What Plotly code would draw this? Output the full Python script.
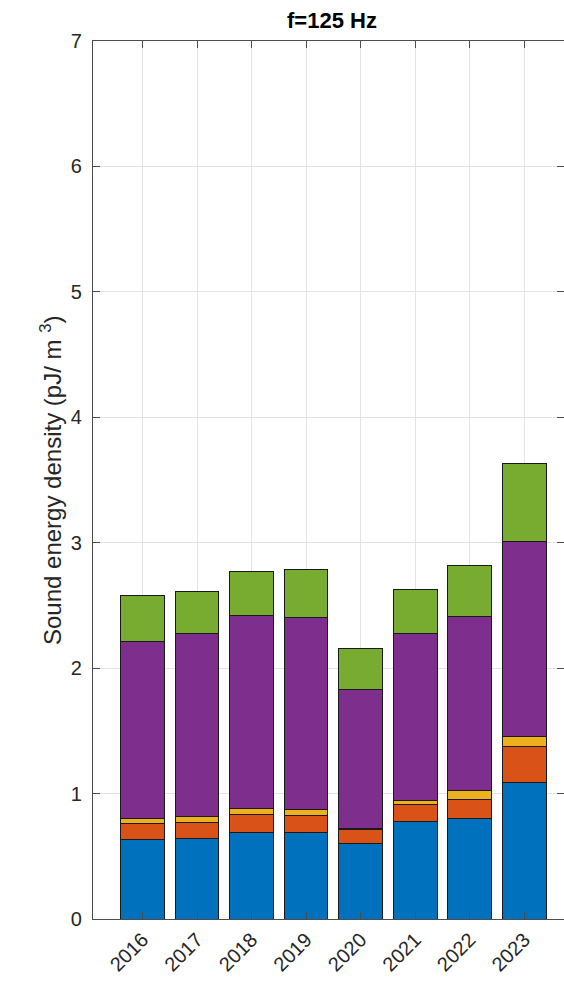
import plotly.graph_objects as go

# Yearly sound energy density at 125 Hz, split into stacked contributions (pJ/m^3)
years = [2016, 2017, 2018, 2019, 2020, 2021, 2022, 2023]
year_labels = [str(y) for y in years]

part_1 = [0.632, 0.645, 0.693, 0.690, 0.600, 0.780, 0.804, 1.091]
part_2 = [0.127, 0.127, 0.141, 0.133, 0.110, 0.133, 0.147, 0.288]
part_3 = [0.045, 0.046, 0.047, 0.053, 0.014, 0.032, 0.074, 0.077]
part_4 = [1.412, 1.462, 1.535, 1.527, 1.104, 1.330, 1.383, 1.555]
part_5 = [0.362, 0.330, 0.356, 0.380, 0.327, 0.353, 0.414, 0.620]

series = [part_1, part_2, part_3, part_4, part_5]
colors = ["#0072BD", "#D95319", "#EDB120", "#7E2F8E", "#77AC30"]

y_ticks = [0, 1, 2, 3, 4, 5, 6, 7]

FONT = "Liberation Sans, Arial, Helvetica, sans-serif"
AX_COLOR = "#4d4d4d"
TXT_COLOR = "#262626"

fig = go.Figure()
for i, (vals, col) in enumerate(zip(series, colors)):
    fig.add_trace(go.Bar(
        x=years, y=vals, name=f"Part {i + 1}",
        width=0.8,
        marker=dict(color=col, line=dict(color="#1a1a1a", width=1)),
        showlegend=False,
    ))

W, H = 564, 982
ML, MT, MB, MR = 93, 41, 63, 0

fig.update_layout(
    width=W, height=H,
    barmode="stack",
    margin=dict(l=ML, r=MR, t=MT, b=MB, pad=0),
    paper_bgcolor="white", plot_bgcolor="white",
    font=dict(family=FONT, color=TXT_COLOR, size=20),
    xaxis=dict(
        range=[2015.091, 2023.728],
        tickvals=years, ticktext=year_labels,
        tickangle=-45,
        ticks="inside", ticklen=7, tickwidth=1, tickcolor=AX_COLOR,
        showline=True, linecolor=AX_COLOR, linewidth=1.2, mirror="ticks",
        showgrid=True, gridcolor="#e3e3e3", gridwidth=1,
        zeroline=False,
        tickfont=dict(size=20, color=TXT_COLOR),
    ),
    yaxis=dict(
        range=[0, 7],
        tickvals=y_ticks,
        ticks="inside", ticklen=7, tickwidth=1, tickcolor=AX_COLOR,
        showline=True, linecolor=AX_COLOR, linewidth=1.2, mirror="ticks",
        showgrid=True, gridcolor="#e3e3e3", gridwidth=1,
        zeroline=False,
        ticklabelstandoff=6,
        tickfont=dict(size=20, color=TXT_COLOR),
    ),
    annotations=[
        dict(
            text="Sound energy density (pJ/ m <sup>3</sup>)",
            xref="paper", yref="paper",
            x=(51 - ML) / (W - ML - MR), y=0.5,
            xanchor="center", yanchor="middle",
            textangle=-90, showarrow=False,
            font=dict(size=24, color=TXT_COLOR, family=FONT),
        ),
        dict(
            text="<b>f=125 Hz</b>",
            xref="paper", yref="paper",
            x=(332 - ML) / (W - ML - MR), y=1,
            xanchor="center", yanchor="bottom", yshift=6,
            showarrow=False,
            font=dict(size=22, color="#000000", family=FONT),
        ),
    ],
)

fig.write_html("out.html")
